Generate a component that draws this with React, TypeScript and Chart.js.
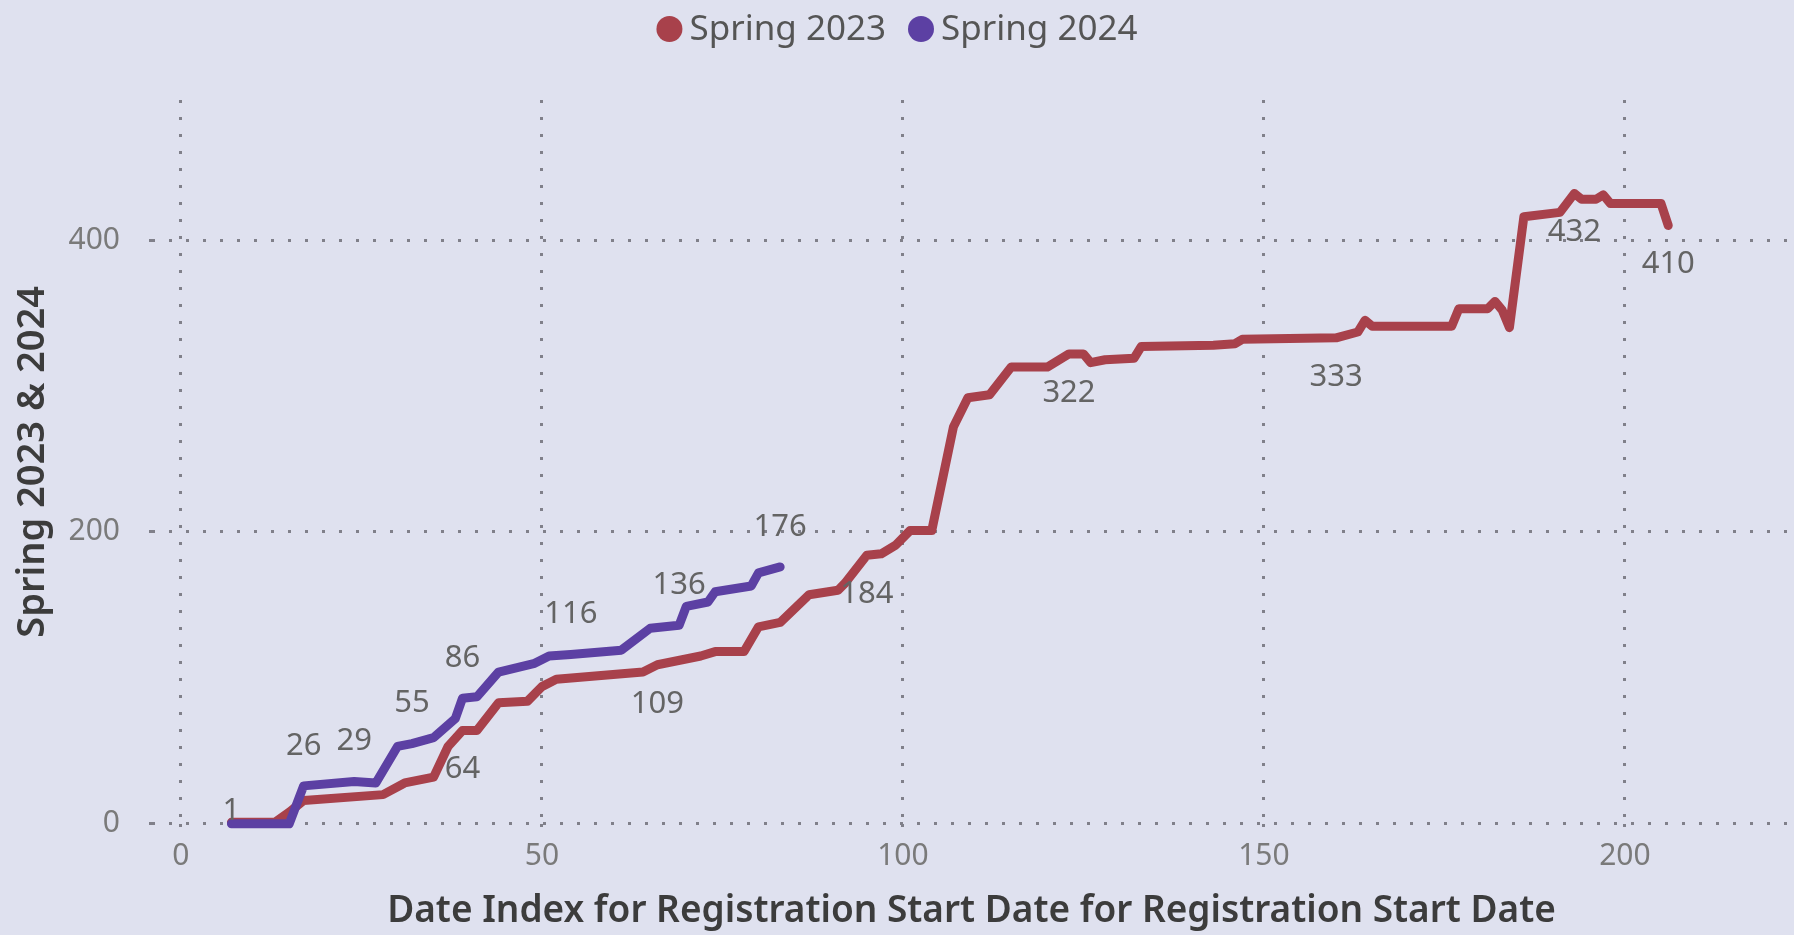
import React, { useEffect, useRef } from "react";
import { Chart, registerables } from "chart.js";

Chart.register(...registerables);

// ---- data ----
const seriesNames = ["Spring 2023", "Spring 2024"];

const spring2023X = [7, 13, 15, 17, 28, 31, 35, 37, 39, 41, 44, 48, 50, 52, 64, 66, 72, 74, 78, 80, 83, 87, 91, 92, 95, 97, 99, 101, 104, 107, 109, 112, 115, 120, 123, 125, 126, 128, 132, 133, 143, 146, 147, 160, 163, 164, 165, 176, 177, 181, 182, 183, 184, 186, 191, 193, 194, 196, 197, 198, 205, 206];
const spring2023Y = [1, 1, 8, 16, 20, 28, 32, 53, 64, 64, 83, 84, 94, 99, 104, 109, 115, 118, 118, 135, 138, 157, 160, 165, 184, 185, 191, 201, 201, 272, 292, 294, 313, 313, 322, 322, 316, 318, 319, 327, 328, 329, 332, 333, 337, 345, 341, 341, 353, 353, 358, 352, 340, 416, 419, 432, 428, 428, 431, 425, 425, 410];
const spring2023Labeled = [0, 8, 15, 24, 34, 43, 55, 61];

const spring2024X = [7, 15, 17, 24, 27, 30, 32, 35, 38, 39, 41, 44, 49, 51, 54, 61, 65, 69, 70, 73, 74, 79, 80, 83];
const spring2024Y = [0, 0, 26, 29, 28, 53, 55, 59, 72, 86, 87, 104, 110, 115, 116, 119, 134, 136, 149, 152, 159, 163, 172, 176];
const spring2024Labeled = [2, 3, 6, 9, 14, 17, 23];

const xTicks = [0, 50, 100, 150, 200];
const yTicks = [0, 200, 400];

const xTitle = "Date Index for Registration Start Date for Registration Start Date";
const yTitle = "Spring 2023 & 2024";

// ---- styles ----
const RED = "#A8414B";
const PURPLE = "#5C40A3";
const BG = "#DFE1EF";
const GRID = "#80808a";
const FONT = "'Noto Sans', 'Open Sans', sans-serif";

const toPoints = (xs: number[], ys: number[]) => xs.map((x, i) => ({ x, y: ys[i] }));

const labelPlugin = {
  id: "pointValueLabels",
  afterDatasetsDraw(chart: any) {
    const { ctx, chartArea } = chart;
    ctx.save();
    ctx.font = `400 31px ${FONT}`;
    ctx.fillStyle = "#646464";
    ctx.textAlign = "center";
    ctx.textBaseline = "middle";
    chart.data.datasets.forEach((ds: any, di: number) => {
      const meta = chart.getDatasetMeta(di);
      (ds.labeled || []).forEach((i: number) => {
        const el = meta.data[i];
        if (!el) return;
        const v = ds.data[i].y;
        let y = ds.labelPlacement === "above" ? el.y - 40 : el.y + 39;
        const half = 13;
        if (y + half > chartArea.bottom) y = chartArea.bottom - half;
        ctx.fillText(String(v), el.x, y);
      });
    });
    ctx.restore();
  },
};

const legendPlugin = {
  id: "topLegend",
  afterDraw(chart: any) {
    const ctx = chart.ctx;
    ctx.save();
    ctx.font = `400 35px ${FONT}`;
    const r = 13;
    const gapText = 7;
    const gapItem = 22;
    const items = chart.data.datasets.map((ds: any) => ({
      n: ds.label,
      c: ds.borderColor,
      w: 2 * r + gapText + ctx.measureText(ds.label).width,
    }));
    const total = items.reduce((s: number, it: any) => s + it.w, 0) + gapItem * (items.length - 1);
    let x = chart.width / 2 - total / 2;
    const y = 29;
    items.forEach((it: any) => {
      ctx.fillStyle = it.c;
      ctx.beginPath();
      ctx.arc(x + r, y, r, 0, Math.PI * 2);
      ctx.fill();
      ctx.fillStyle = "#555555";
      ctx.textAlign = "left";
      ctx.textBaseline = "middle";
      ctx.fillText(it.n, x + 2 * r + gapText, y + 1);
      x += it.w + gapItem;
    });
    ctx.restore();
  },
};

export default function App() {
  const ref = useRef<HTMLCanvasElement | null>(null);

  useEffect(() => {
    if (!ref.current) return;
    const chart = new Chart(ref.current, {
      type: "line",
      data: {
        datasets: [
          {
            label: seriesNames[0],
            data: toPoints(spring2023X, spring2023Y),
            borderColor: RED,
            backgroundColor: RED,
            borderWidth: 9,
            pointRadius: 0,
            tension: 0,
            borderJoinStyle: "round",
            borderCapStyle: "round",
            clip: false,
            order: 1,
            labeled: spring2023Labeled,
            labelPlacement: "below",
          } as any,
          {
            label: seriesNames[1],
            data: toPoints(spring2024X, spring2024Y),
            borderColor: PURPLE,
            backgroundColor: PURPLE,
            borderWidth: 9,
            pointRadius: 0,
            tension: 0,
            borderJoinStyle: "round",
            borderCapStyle: "round",
            clip: false,
            order: 0,
            labeled: spring2024Labeled,
            labelPlacement: "above",
          } as any,
        ],
      },
      options: {
        responsive: false,
        animation: false,
        devicePixelRatio: 1,
        layout: { padding: { top: 100, left: 0, right: 3, bottom: 0 } },
        plugins: {
          legend: { display: false },
          tooltip: { enabled: false },
        },
        scales: {
          x: {
            type: "linear",
            min: -4,
            max: 223,
            afterBuildTicks: (scale: any) => {
              scale.ticks = xTicks.map((v) => ({ value: v }));
            },
            afterFit: (scale: any) => {
              scale.height = 111.2;
            },
            ticks: {
              color: "#7a7a7a",
              font: { family: FONT, size: 30 },
              padding: 5,
              maxRotation: 0,
            },
            grid: {
              color: GRID,
              lineWidth: 3,
              drawTicks: true,
              tickLength: 10,
              tickColor: GRID,
              tickWidth: 3,
              tickBorderDash: [3, 14],
            },
            border: { display: false, dash: [3, 14] },
            title: {
              display: true,
              text: xTitle,
              color: "#3c3c3c",
              font: { family: FONT, size: 37, weight: "600" },
              padding: { top: 0, bottom: 1 },
            },
          },
          y: {
            type: "linear",
            min: 0,
            max: 496,
            afterBuildTicks: (scale: any) => {
              scale.ticks = yTicks.map((v) => ({ value: v }));
            },
            afterFit: (scale: any) => {
              scale.width = 152;
            },
            ticks: {
              color: "#7a7a7a",
              font: { family: FONT, size: 30 },
              padding: 29,
            },
            grid: {
              color: GRID,
              lineWidth: 3,
              drawTicks: true,
              tickLength: 3,
              tickColor: GRID,
              tickWidth: 3,
            },
            border: { display: false, dash: [3, 14] },
            title: {
              display: true,
              text: yTitle,
              color: "#3c3c3c",
              font: { family: FONT, size: 38, weight: "600" },
              padding: { top: 10, bottom: 0 },
            },
          },
        },
      } as any,
      plugins: [labelPlugin, legendPlugin],
    });
    return () => chart.destroy();
  }, []);

  return (
    <div
      style={{
        position: "fixed",
        left: 0,
        top: 0,
        width: 1794,
        height: 935,
        background: BG,
      }}
    >
      <canvas ref={ref} width={1794} height={935} style={{ display: "block" }} />
    </div>
  );
}
